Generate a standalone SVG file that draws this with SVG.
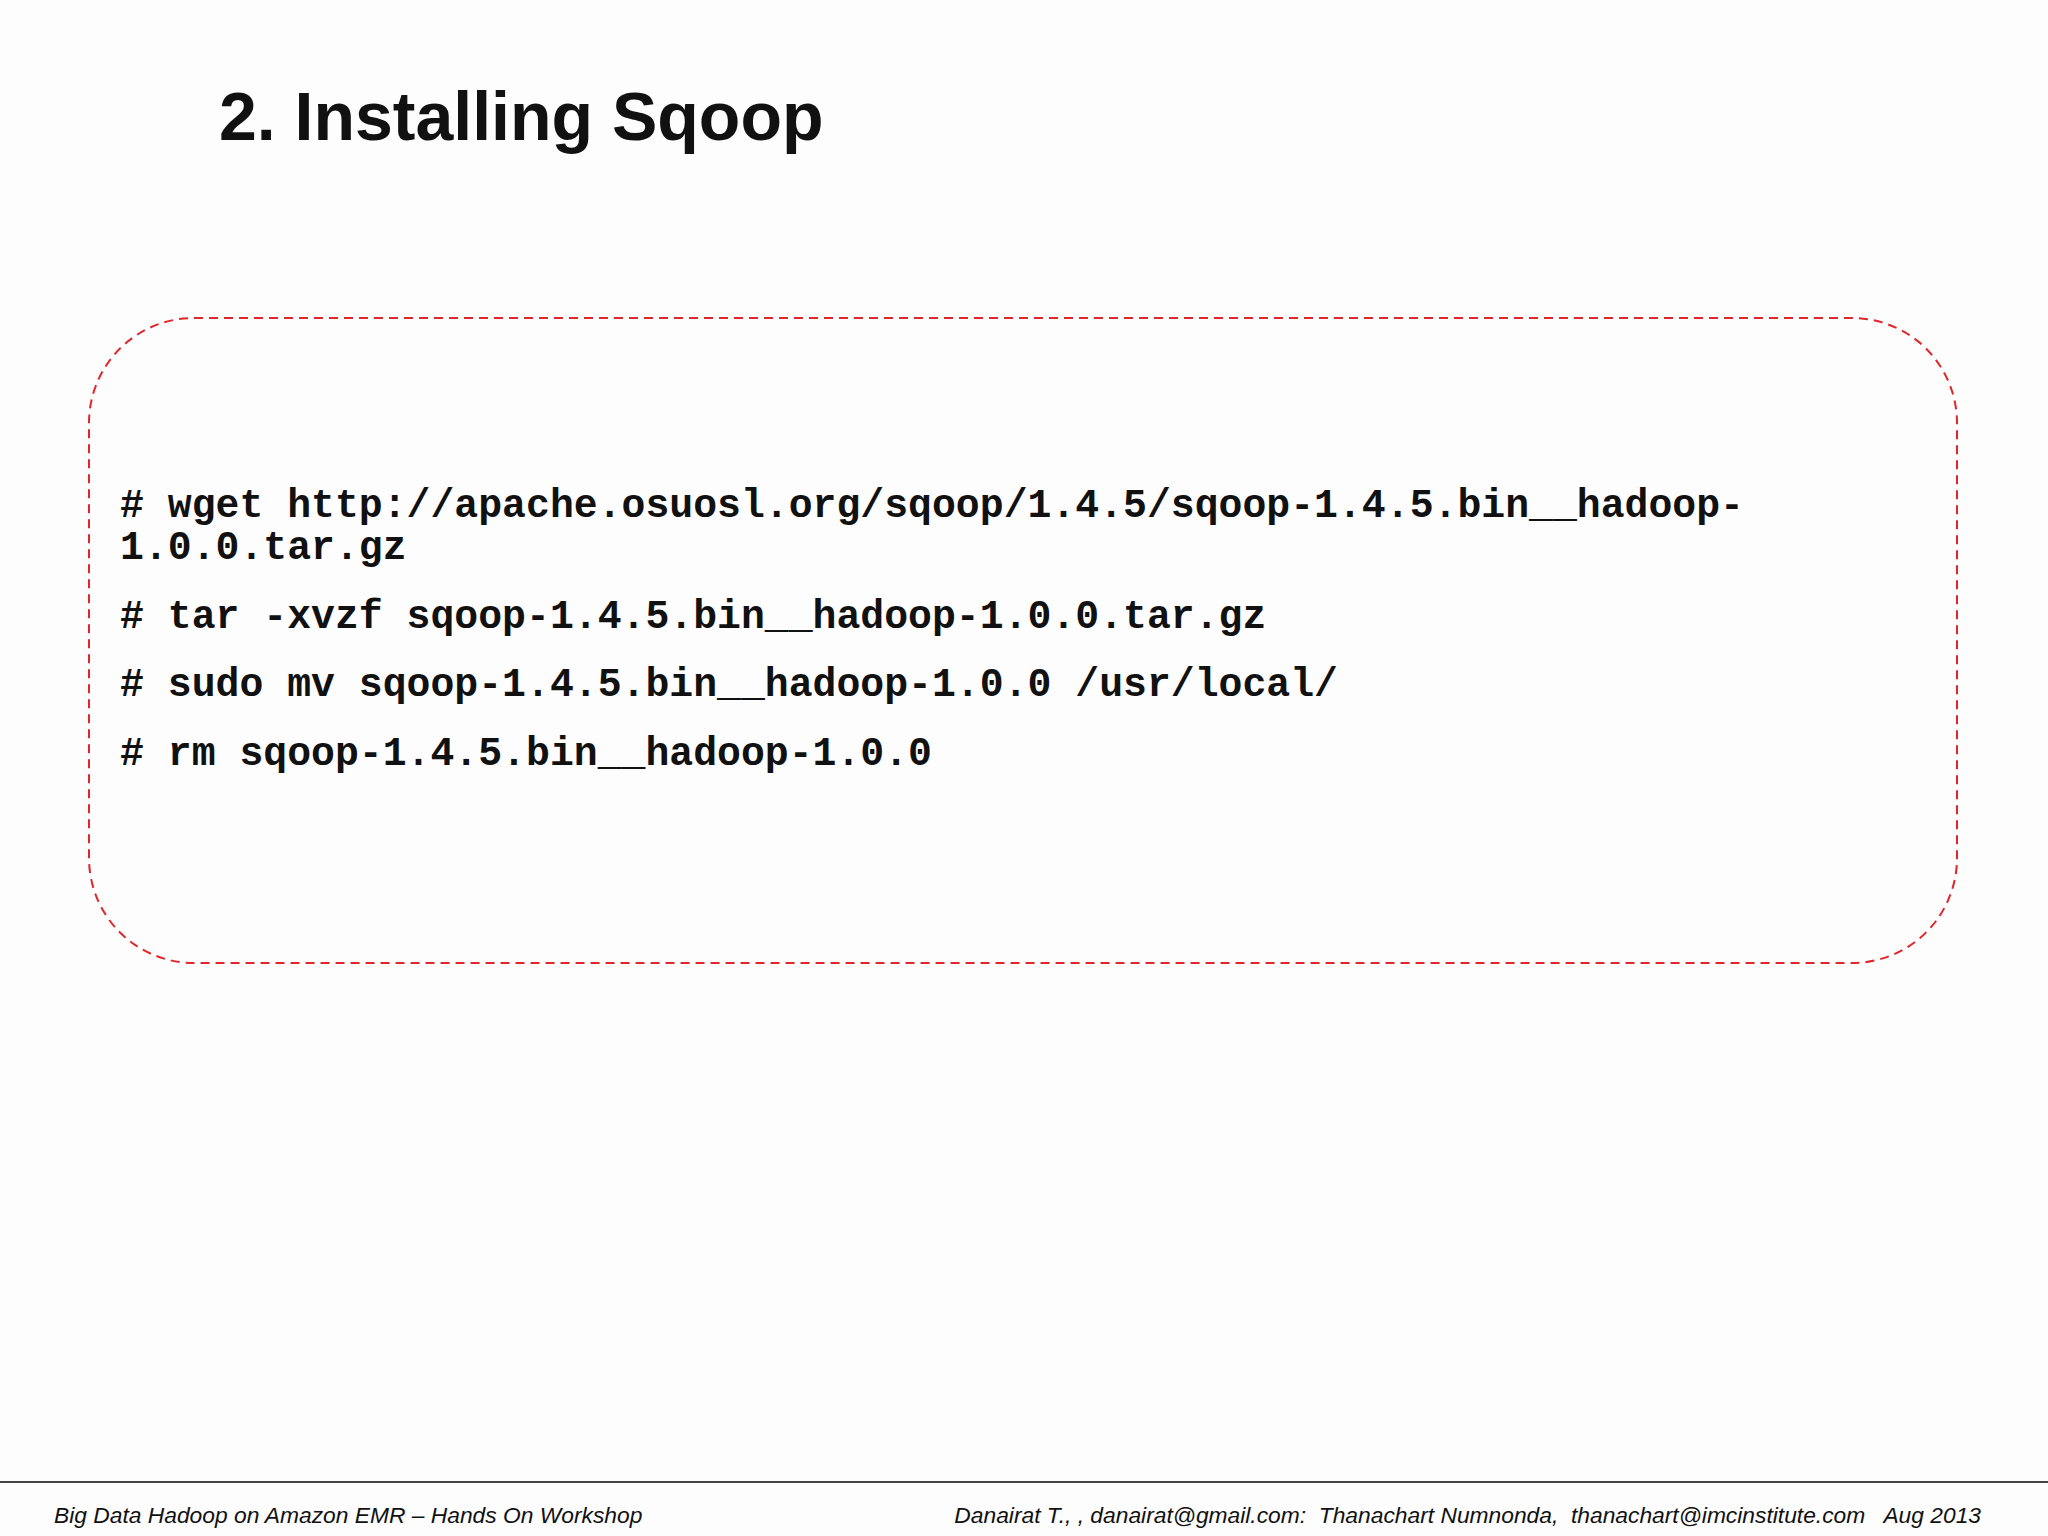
<svg xmlns="http://www.w3.org/2000/svg" width="2048" height="1536" viewBox="0 0 2048 1536">
<style>
.code{font-family:"Liberation Mono",monospace;font-weight:bold;font-size:39.8px;fill:#111}
.foot{font-family:"Liberation Sans",sans-serif;font-style:italic;font-size:22.8px;fill:#111}
</style>
<rect width="2048" height="1536" fill="#fdfdfd"/>
<g id="title"><text x="219" y="140" font-family="Liberation Sans,sans-serif" font-weight="bold" font-size="68" fill="#111">2. Installing Sqoop</text></g>
<g id="codebox">
<rect x="89" y="318" width="1868" height="645" rx="105" ry="105" fill="none" stroke="#e0262b" stroke-width="2" stroke-dasharray="9,6"/>
<text class="code" x="120" y="517"># wget http://apache.osuosl.org/sqoop/1.4.5/sqoop-1.4.5.bin__hadoop-</text>
<text class="code" x="120" y="559">1.0.0.tar.gz</text>
<text class="code" x="120" y="628"># tar -xvzf sqoop-1.4.5.bin__hadoop-1.0.0.tar.gz</text>
<text class="code" x="120" y="696"># sudo mv sqoop-1.4.5.bin__hadoop-1.0.0 /usr/local/</text>
<text class="code" x="120" y="765"># rm sqoop-1.4.5.bin__hadoop-1.0.0</text>
</g>
<g id="footer">
<line x1="0" y1="1482" x2="2048" y2="1482" stroke="#444" stroke-width="2"/>
<text class="foot" x="54" y="1523">Big Data Hadoop on Amazon EMR – Hands On Workshop</text>
<text class="foot" x="1981" y="1523" text-anchor="end" xml:space="preserve">Danairat T., , danairat@gmail.com:  Thanachart Numnonda,  thanachart@imcinstitute.com   Aug 2013</text>
</g>
</svg>
